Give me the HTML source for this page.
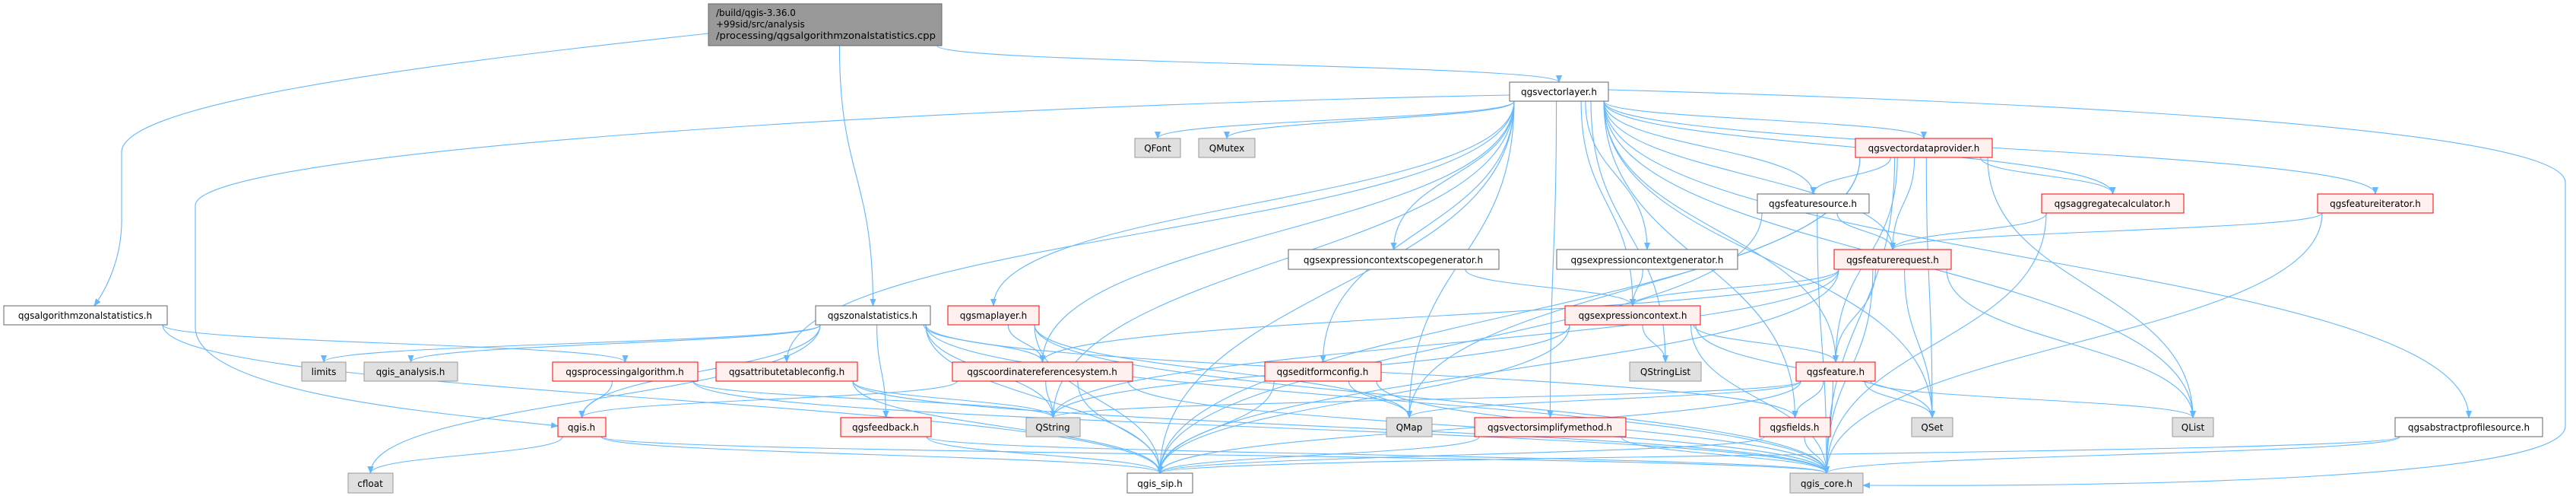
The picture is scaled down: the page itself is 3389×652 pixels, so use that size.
<!DOCTYPE html>
<html><head><meta charset="utf-8">
<style>
html,body{margin:0;padding:0;background:#fff;}
svg{display:block;}
text{font-family:"DejaVu Sans","Liberation Sans",sans-serif;font-size:12px;fill:#000;}
</style></head>
<body>
<svg id="g" width="3389" height="652" viewBox="0 0 3389 652" xmlns="http://www.w3.org/2000/svg">
<defs>
<marker id="a" markerWidth="10" markerHeight="8" refX="9" refY="4" orient="auto" markerUnits="userSpaceOnUse">
<path d="M0,0 L10,4 L0,8 z" fill="#63b8ff"/>
</marker>
</defs>
<g id="edges" fill="none" stroke="#63b8ff" stroke-width="1.1"></g>
<g id="nodes">
<rect x="932" y="5" width="307" height="55" fill="#999999" stroke="#666"/>
<text x="942" y="21">/build/qgis-3.36.0</text>
<text x="942" y="36">+99sid/src/analysis</text>
<text x="942" y="51" textLength="289" lengthAdjust="spacingAndGlyphs">/processing/qgsalgorithmzonalstatistics.cpp</text>
</g>
</svg>
<script>
var N={
algz:[5,402,220,427,'w'],
limits:[397,476,455,501,'g'],
ana:[479,476,602,501,'g'],
proc:[727,476,918,501,'r'],
qgis:[734,549,797,574,'r'],
cfloat:[458,622,517,648,'g'],
qfont:[1493,182,1553,207,'g'],
qmutex:[1577,182,1651,207,'g'],
zonal:[1073,402,1224,427,'w'],
maplayer:[1247,402,1367,427,'r'],
attr:[942,476,1128,501,'r'],
crs:[1253,476,1490,501,'r'],
feedback:[1106,549,1225,574,'r'],
qstring:[1350,549,1421,574,'g'],
sip:[1483,622,1569,648,'w'],
editform:[1664,476,1817,501,'r'],
scopegen:[1695,328,1972,354,'w'],
vlayer:[1986,108,2116,133,'w'],
vdp:[2441,182,2621,207,'r'],
fsource:[2312,255,2459,280,'w'],
ctxgen:[2048,328,2286,354,'w'],
freq:[2413,328,2567,354,'r'],
ctx:[2059,402,2237,427,'r'],
qsl:[2144,476,2238,501,'g'],
feature:[2363,476,2467,501,'r'],
qmap:[1824,549,1884,574,'g'],
simp:[1940,549,2139,574,'r'],
fields:[2315,549,2408,574,'r'],
qset:[2515,549,2569,574,'g'],
core:[2355,622,2451,648,'g'],
agg:[2686,255,2873,280,'r'],
fiter:[3049,255,3201,280,'r'],
qlist:[2858,549,2912,574,'g'],
prof:[3151,549,3345,574,'w']
};
var E=[
['main','zonal'],['main','vlayer'],
['algz','proc'],['algz','sip'],
['proc','qgis'],['proc','qstring'],['proc','core'],
['zonal','limits'],['zonal','ana'],['zonal','qgis'],['zonal','qstring'],['zonal','feedback'],['zonal','crs'],['zonal','sip'],['zonal','core'],['zonal','cfloat'],['zonal','fields'],
['maplayer','crs'],['maplayer','core'],['maplayer','qmap'],['maplayer','sip'],
['attr','qstring'],['attr','sip'],['attr','core'],
['crs','qstring'],['crs','sip'],['crs','core'],['crs','qgis'],
['feedback','sip'],['feedback','core'],
['qgis','cfloat'],['qgis','sip'],['qgis','core'],
['vlayer','qfont'],['vlayer','qmutex'],['vlayer','maplayer'],['vlayer','attr'],['vlayer','editform'],['vlayer','scopegen'],['vlayer','ctxgen'],['vlayer','ctx'],['vlayer','feature'],['vlayer','fsource'],['vlayer','freq'],['vlayer','vdp'],['vlayer','agg'],['vlayer','fiter'],['vlayer','qset'],['vlayer','qlist'],['vlayer','prof'],['vlayer','sip'],['vlayer','qmap'],['vlayer','qstring'],['vlayer','qsl'],['vlayer','simp'],['vlayer','fields'],['vlayer','crs'],
['vdp','fsource'],['vdp','freq'],['vdp','agg'],['vdp','feature'],['vdp','qset'],['vdp','qlist'],['vdp','qmap'],['vdp','sip'],['vdp','core'],
['fsource','freq'],['fsource','core'],['fsource','sip'],
['scopegen','ctx'],['ctxgen','ctx'],
['freq','ctx'],['freq','feature'],['freq','qlist'],['freq','qset'],['freq','core'],['freq','sip'],['freq','crs'],['freq','qstring'],
['ctx','qsl'],['ctx','feature'],['ctx','qset'],['ctx','core'],['ctx','sip'],['ctx','qstring'],
['agg','freq'],['agg','core'],['fiter','freq'],['fiter','core'],
['feature','qmap'],['feature','fields'],['feature','qset'],['feature','qlist'],['feature','core'],['feature','sip'],['feature','qstring'],
['fields','core'],['fields','sip'],
['editform','qmap'],['editform','core'],['editform','sip'],
['simp','core'],['simp','sip'],
['prof','core'],['prof','sip']
];
N.main=[932,5,1239,60,'m'];
var ns='http://www.w3.org/2000/svg';
var eg=document.getElementById('edges'),ng=document.getElementById('nodes');
function P(d){var p=document.createElementNS(ns,'path');p.setAttribute('d',d);p.setAttribute('marker-end','url(#a)');eg.appendChild(p);}
E.forEach(function(e){
 var s=N[e[0]],t=N[e[1]];
 var sx=(s[0]+s[2])/2,tx=(t[0]+t[2])/2;
 var d;
 if(t[1]>=s[3]-1){
  var sy=s[3],ty=t[1];
  var off=Math.max(-(s[2]-s[0])/2+6,Math.min((s[2]-s[0])/2-6,(tx-sx)*0.3));
  sx+=off;
  var m=(sy+ty)/2;
  d='M'+sx+','+sy+' C'+sx+','+m+' '+tx+','+m+' '+tx+','+ty;
 } else {
  var sy=(s[1]+s[3])/2,ty=(t[1]+t[3])/2;
  var x1=tx>sx?s[2]:s[0],x2=tx>sx?t[0]:t[2];
  d='M'+x1+','+sy+' C'+((x1+x2)/2)+','+sy+' '+((x1+x2)/2)+','+ty+' '+x2+','+ty;
 }
 P(d);
});
P('M932,44 C500,90 160,140 160,200 L160,290 C160,340 140,380 124,402');
P('M1986,125 C1200,140 257,200 257,270 L257,430 C257,520 600,545 734,560');
P('M2116,118 C2900,140 3375,180 3375,240 L3375,560 C3375,630 2800,640 2451,638');
for(var k in N){if(k==='main')continue;var n=N[k];
 var r=document.createElementNS(ns,'rect');
 r.setAttribute('x',n[0]);r.setAttribute('y',n[1]);r.setAttribute('width',n[2]-n[0]);r.setAttribute('height',n[3]-n[1]);
 var f={w:'#ffffff',g:'#e0e0e0',r:'#fff0f0'}[n[4]],st={w:'#666666',g:'#999999',r:'#ff0000'}[n[4]];
 r.setAttribute('fill',f);r.setAttribute('stroke',st);ng.appendChild(r);
}
</script>
<svg width="3389" height="652" viewBox="0 0 3389 652" xmlns="http://www.w3.org/2000/svg" style="position:absolute;left:0;top:0;pointer-events:none">
<g font-family="DejaVu Sans, Liberation Sans, sans-serif" font-size="12" text-anchor="middle">
<text x="112" y="419">qgsalgorithmzonalstatistics.h</text>
<text x="426" y="493">limits</text>
<text x="540" y="493">qgis_analysis.h</text>
<text x="822" y="493">qgsprocessingalgorithm.h</text>
<text x="765" y="566">qgis.h</text>
<text x="487" y="640">cfloat</text>
<text x="1523" y="199">QFont</text>
<text x="1614" y="199">QMutex</text>
<text x="1148" y="419">qgszonalstatistics.h</text>
<text x="1307" y="419">qgsmaplayer.h</text>
<text x="1035" y="493">qgsattributetableconfig.h</text>
<text x="1371" y="493">qgscoordinatereferencesystem.h</text>
<text x="1165" y="566">qgsfeedback.h</text>
<text x="1385" y="566">QString</text>
<text x="1526" y="640">qgis_sip.h</text>
<text x="1740" y="493">qgseditformconfig.h</text>
<text x="1833" y="346">qgsexpressioncontextscopegenerator.h</text>
<text x="2051" y="125">qgsvectorlayer.h</text>
<text x="2531" y="199">qgsvectordataprovider.h</text>
<text x="2385" y="272">qgsfeaturesource.h</text>
<text x="2167" y="346">qgsexpressioncontextgenerator.h</text>
<text x="2490" y="346">qgsfeaturerequest.h</text>
<text x="2148" y="419">qgsexpressioncontext.h</text>
<text x="2191" y="493">QStringList</text>
<text x="2415" y="493">qgsfeature.h</text>
<text x="1854" y="566">QMap</text>
<text x="2039" y="566">qgsvectorsimplifymethod.h</text>
<text x="2361" y="566">qgsfields.h</text>
<text x="2542" y="566">QSet</text>
<text x="2403" y="640">qgis_core.h</text>
<text x="2779" y="272">qgsaggregatecalculator.h</text>
<text x="3125" y="272">qgsfeatureiterator.h</text>
<text x="2885" y="566">QList</text>
<text x="3248" y="566">qgsabstractprofilesource.h</text>
</g>
</svg>
</body></html>
